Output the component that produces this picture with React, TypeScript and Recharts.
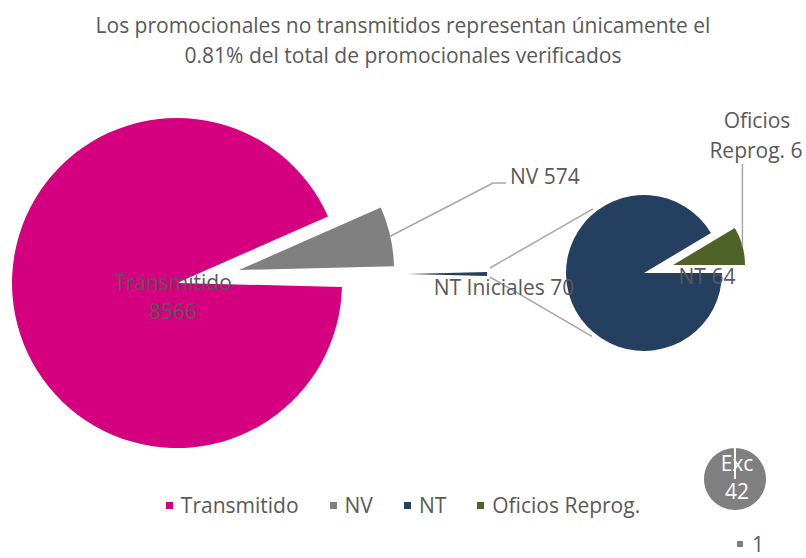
import React from "react";
import { PieChart, Pie, Cell, Legend } from "recharts";

// main pie (values in order around the circle, starting at 3 o'clock)
const mainNames = ["NT Iniciales", "NV", "Transmitido"];
const mainValues = [70, 574, 8566];
// second pie: breakdown of NT Iniciales
const subNames = ["Oficios Reprog.", "NT"];
const subValues = [6, 64];
// small separate pie
const excNames = ["Exc"];
const excValues = [42];

const legendNames = ["Transmitido", "NV", "NT", "Oficios Reprog."];
const titleLines = [
  "Los promocionales no transmitidos representan únicamente el",
  "0.81% del total de promocionales verificados",
];

const PINK = "#D5007F";
const GRAY = "#808080";
const NAVY = "#253F60";
const GREEN = "#4F6228";
const TEXT = "#595959";
const LINE = "#A6A6A6";
const FONT = "'Open Sans', sans-serif";
const FS = 21;

const W = 806;
const H = 558;

const mainData = mainNames.map((name, i) => ({ name, value: mainValues[i] }));
const subData = subNames.map((name, i) => ({ name, value: subValues[i] }));
const excData = excNames.map((name, i) => ({ name, value: excValues[i] }));

const mainTotal = mainValues.reduce((a, b) => a + b, 0);
const mainStart = -((mainValues[0] / mainTotal) * 360) / 2;

// layout: each exploded slice gets its own centre
const PINK_C = { cx: 177, cy: 283, r: 165 };
const GRAY_C = { cx: 239, cy: 270, r: 155 };
const NT_C = { cx: 407, cy: 274, r: 80 };
const SUB_C = { cx: 644, cy: 273, r: 78 };
const GREEN_C = { cx: 673, cy: 265, r: 72 };
const EXC_C = { cx: 735, cy: 479, r: 32 };

const RAD = Math.PI / 180;

const txt = { fontFamily: FONT, fontSize: FS, fill: TEXT };

function pinkLabel(p: any) {
  if (p.index !== 2) return null;
  return (
    <g>
      <text x={p.cx - 4} y={p.cy - 1} textAnchor="middle" dominantBaseline="central" {...txt}>
        {p.name}
      </text>
      <text x={p.cx - 4} y={p.cy + 28} textAnchor="middle" dominantBaseline="central" {...txt}>
        {p.value}
      </text>
    </g>
  );
}

function grayLabel(p: any) {
  if (p.index !== 1) return null;
  const sx = p.cx + p.outerRadius * Math.cos(-p.midAngle * RAD);
  const sy = p.cy + p.outerRadius * Math.sin(-p.midAngle * RAD);
  const ex = p.cx + 254;
  const ey = p.cy - 87;
  return (
    <g>
      <polyline points={`${sx},${sy} ${ex},${ey} ${ex + 13},${ey}`} fill="none" stroke={LINE} strokeWidth={1.5} />
      <text x={ex + 17} y={ey - 7} dominantBaseline="central" {...txt}>
        {`${p.name} ${p.value}`}
      </text>
    </g>
  );
}

function ntLabel(p: any) {
  if (p.index !== 0) return null;
  return (
    <text x={p.cx + 97} y={p.cy + 13} textAnchor="middle" dominantBaseline="central" {...txt}>
      {`${p.name} ${p.value}`}
    </text>
  );
}

function subLabel(p: any) {
  if (p.index !== 1) return null;
  return (
    <text x={p.cx + 63} y={p.cy + 3} textAnchor="middle" dominantBaseline="central" {...txt}>
      {`${p.name} ${p.value}`}
    </text>
  );
}

function greenLabel(p: any) {
  if (p.index !== 0) return null;
  const sx = p.cx + p.outerRadius * Math.cos(-p.midAngle * RAD);
  const sy = p.cy + p.outerRadius * Math.sin(-p.midAngle * RAD);
  const [w1, w2] = p.name.split(" ");
  return (
    <g>
      <line x1={sx} y1={sy} x2={sx} y2={p.cy - 101} stroke={LINE} strokeWidth={1.5} />
      <text x={p.cx + 84} y={p.cy - 145} textAnchor="middle" dominantBaseline="central" {...txt}>
        {w1}
      </text>
      <text x={p.cx + 83} y={p.cy - 115} textAnchor="middle" dominantBaseline="central" {...txt}>
        {`${w2} ${p.value}`}
      </text>
    </g>
  );
}

function excLabel(p: any) {
  return (
    <g>
      <text x={p.cx + 2} y={p.cy - 16} textAnchor="middle" dominantBaseline="central" {...txt} fill="#fff">
        {p.name}
      </text>
      <text x={p.cx + 2} y={p.cy + 12} textAnchor="middle" dominantBaseline="central" {...txt} fill="#fff">
        {p.value}
      </text>
    </g>
  );
}

const legendColors = [PINK, GRAY, NAVY, GREEN];

function MainLegend() {
  return (
    <div style={{ display: "flex", justifyContent: "center", gap: 31, fontFamily: FONT, fontSize: FS, color: TEXT }}>
      {legendNames.map((n, i) => (
        <span key={n} style={{ display: "flex", alignItems: "center" }}>
          <span style={{ width: 7, height: 7, background: legendColors[i], marginRight: 8 }} />
          {n}
        </span>
      ))}
    </div>
  );
}

export default function App() {
  // connector lines from the NT slice to the second pie
  const ntEndX = NT_C.cx + NT_C.r + 3;
  const a1 = 128.5 * RAD;
  const a2 = 230.5 * RAD;
  const rr = SUB_C.r + 4;
  return (
    <div style={{ position: "relative", width: W, height: H, background: "#fff", overflow: "hidden" }}>
      <style>{`body{margin:0}`}</style>
      <div style={{ position: "absolute", top: 10, left: 0, width: W, textAlign: "center", fontFamily: FONT, fontSize: FS, color: TEXT, lineHeight: "30px" }}>
        {titleLines.map((l) => (
          <div key={l}>{l}</div>
        ))}
      </div>
      <svg width={W} height={H} style={{ position: "absolute", left: 0, top: 0 }}>
        <line x1={ntEndX} y1={NT_C.cy - 6} x2={SUB_C.cx + rr * Math.cos(a1)} y2={SUB_C.cy - rr * Math.sin(a1)} stroke={LINE} strokeWidth={1.5} />
        <line x1={ntEndX} y1={NT_C.cy + 3} x2={SUB_C.cx + rr * Math.cos(a2)} y2={SUB_C.cy - rr * Math.sin(a2)} stroke={LINE} strokeWidth={1.5} />
      </svg>
      <div style={{ position: "absolute", left: 0, top: 0 }}>
        <PieChart width={W} height={H} margin={{ top: 0, right: 0, bottom: 0, left: 0 }}>
          <Pie data={mainData} dataKey="value" nameKey="name" cx={PINK_C.cx} cy={PINK_C.cy} outerRadius={PINK_C.r}
            startAngle={mainStart} endAngle={mainStart + 360} stroke="none" label={pinkLabel} labelLine={false} isAnimationActive={false}>
            {mainData.map((d, i) => (
              <Cell key={d.name} fill={i === 2 ? PINK : "transparent"} />
            ))}
          </Pie>
          <Pie data={mainData} dataKey="value" nameKey="name" cx={GRAY_C.cx} cy={GRAY_C.cy} outerRadius={GRAY_C.r}
            startAngle={mainStart} endAngle={mainStart + 360} stroke="none" label={grayLabel} labelLine={false} isAnimationActive={false}>
            {mainData.map((d, i) => (
              <Cell key={d.name} fill={i === 1 ? GRAY : "transparent"} />
            ))}
          </Pie>
          <Pie data={mainData} dataKey="value" nameKey="name" cx={NT_C.cx} cy={NT_C.cy} outerRadius={NT_C.r}
            startAngle={mainStart} endAngle={mainStart + 360} stroke="none" label={ntLabel} labelLine={false} isAnimationActive={false}>
            {mainData.map((d, i) => (
              <Cell key={d.name} fill={i === 0 ? NAVY : "transparent"} />
            ))}
          </Pie>
          <Pie data={subData} dataKey="value" nameKey="name" cx={SUB_C.cx} cy={SUB_C.cy} outerRadius={SUB_C.r}
            startAngle={0} endAngle={360} stroke="none" label={subLabel} labelLine={false} isAnimationActive={false}>
            {subData.map((d, i) => (
              <Cell key={d.name} fill={i === 1 ? NAVY : "transparent"} />
            ))}
          </Pie>
          <Pie data={subData} dataKey="value" nameKey="name" cx={GREEN_C.cx} cy={GREEN_C.cy} outerRadius={GREEN_C.r}
            startAngle={0} endAngle={360} stroke="none" label={greenLabel} labelLine={false} isAnimationActive={false}>
            {subData.map((d, i) => (
              <Cell key={d.name} fill={i === 0 ? GREEN : "transparent"} />
            ))}
          </Pie>
          <Pie data={excData} dataKey="value" nameKey="name" cx={EXC_C.cx} cy={EXC_C.cy} outerRadius={EXC_C.r}
            startAngle={90} endAngle={-270} stroke="#fff" strokeWidth={2} label={excLabel} labelLine={false} isAnimationActive={false}>
            {excData.map((d) => (
              <Cell key={d.name} fill={GRAY} />
            ))}
          </Pie>
          <Legend content={() => <MainLegend />} wrapperStyle={{ left: 0, top: 491, width: W }} />
        </PieChart>
      </div>
      <div style={{ position: "absolute", left: 737, top: 533, height: 22, lineHeight: "20px", display: "flex", alignItems: "center", fontFamily: FONT, fontSize: FS, color: TEXT }}>
        <span style={{ width: 6, height: 6, background: GRAY, marginRight: 9 }} />1
      </div>
    </div>
  );
}
